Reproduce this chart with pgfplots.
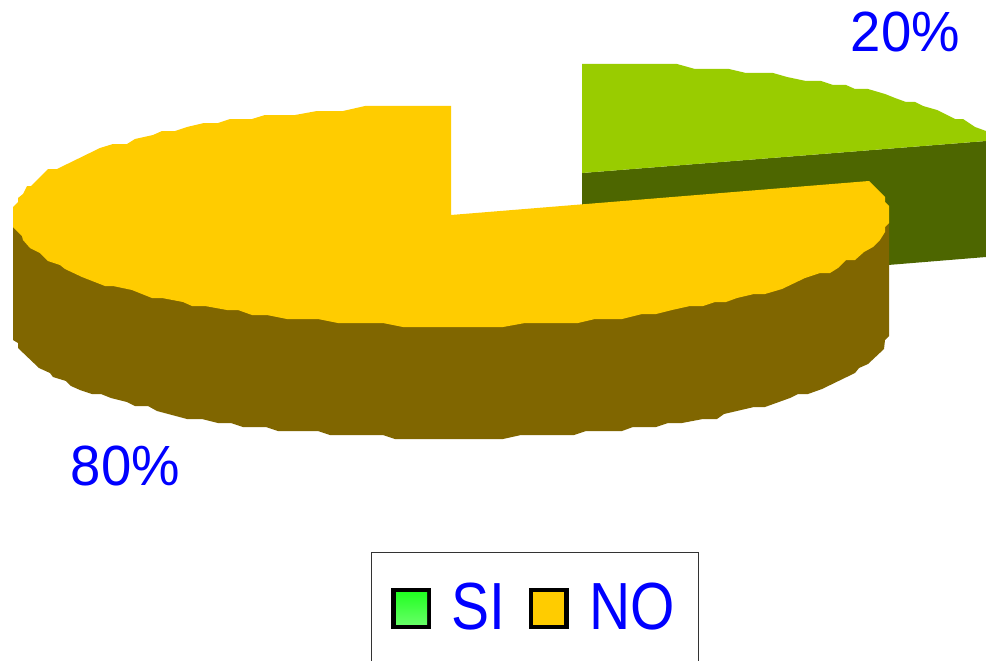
\documentclass[border=0pt]{standalone}
\usepackage{fontspec}
\usepackage{graphicx}
\usepackage{pgfplots}
\pgfplotsset{compat=1.18}
\setmainfont{Liberation Sans}
\definecolor{topgreen}{HTML}{99CC00}
\definecolor{sidegreen}{HTML}{4D6600}
\definecolor{topyellow}{HTML}{FFCC00}
\definecolor{sidebrown}{HTML}{806600}
\newcommand{\lab}[1]{\fontsize{54.5}{60}\selectfont\scalebox{1}[1.04]{\textcolor{blue}{#1}}}
\newcommand{\leg}[1]{\fontsize{57}{62}\selectfont\scalebox{1}[1.17]{\textcolor{blue}{#1}}}

\begin{document}
\begin{tikzpicture}
\begin{axis}[
    scale only axis,
    width=986pt, height=661pt,
    xmin=0, xmax=986,
    ymin=0, ymax=661,
    y dir=reverse,
    axis lines=none,
    clip=true,
]
% white page, keeps the picture at full size
\addplot[fill=white, draw=none] coordinates {(0,0) (986,0) (986,661) (0,661)} -- cycle;
% 20% slice, side then top
\addplot[fill=sidegreen, draw=none] coordinates {
    (582,173) (986,141) (986,257) (582,290)
} -- cycle;
\addplot[fill=topgreen, draw=none] coordinates {
    (582,64) (677,64) (695,69) (729,69) (746,73) (773,73) (787,77) (806,81)
    (821,81) (833,85) (846,85) (855,89) (868,89) (885,94) (895,98) (906,102)
    (915,102) (923,106) (937,110) (955,119) (963,119) (975,127) (986,131)
    (986,141) (582,173)
} -- cycle;
% 80% slice, side
\addplot[fill=sidebrown, draw=none] coordinates {
    (13,227) (13,340) (18,343) (18,348) (39,368) (50,373) (53,377) (66,381)
    (71,386) (80,390) (92,394) (101,394) (111,398) (127,402) (135,406) (148,406)
    (157,411) (187,419) (202,419) (218,423) (231,423) (243,427) (266,427)
    (278,431) (318,431) (330,435) (383,435) (395,439) (503,439) (521,435)
    (574,435) (586,431) (622,431) (633,427) (656,427) (668,423) (682,423)
    (703,419) (717,419) (724,414) (754,407) (765,407) (790,398) (798,394)
    (808,394) (822,389) (855,373) (859,368) (868,364) (884,349) (885,340)
    (889,336) (889,223) (500,250)
} -- cycle;
% 80% slice, top
\addplot[fill=topyellow, draw=none] coordinates {
    (451,106) (451,215) (869,181) (885,197) (885,202) (889,206) (889,223)
    (885,227) (885,232) (880,240) (873,247) (864,252) (855,260) (846,260)
    (838,268) (830,273) (820,273) (805,278) (782,289) (765,294) (754,294)
    (737,298) (726,302) (715,302) (703,306) (690,306) (672,310) (656,314)
    (642,314) (622,319) (595,319) (578,323) (525,323) (503,327) (403,327)
    (383,323) (338,323) (318,319) (287,319) (267,315) (252,315) (238,310)
    (227,310) (205,306) (192,306) (183,302) (162,298) (152,298) (132,290)
    (113,286) (105,286) (82,277) (65,269) (60,265) (48,261) (40,253) (30,248)
    (23,240) (22,236) (13,227) (13,207) (18,202) (18,198) (23,194) (27,186)
    (31,186) (48,169) (57,169) (100,148) (113,144) (127,144) (135,139) (153,135)
    (162,131) (175,131) (187,127) (204,123) (218,123) (230,119) (252,119)
    (265,115) (295,115) (317,111) (343,111) (365,106)
} -- cycle;
% legend box, open at the bottom
\addplot[draw=black!80, line width=1pt] coordinates {
    (371,661) (371,552.5) (698,552.5) (698,661)
};
\addplot[fill=black, draw=none] coordinates {(391,588) (431,588) (431,629) (391,629)} -- cycle;
\addplot[draw=none, top color={rgb,255:red,34;green,255;blue,34}, bottom color={rgb,255:red,102;green,255;blue,102}]
    coordinates {(396,592) (427,592) (427,624.5) (396,624.5)} -- cycle;
\addplot[fill=black, draw=none] coordinates {(528.5,588) (568.5,588) (568.5,629) (528.5,629)} -- cycle;
\addplot[fill=topyellow, draw=none] coordinates {(533,592) (564,592) (564,624.5) (533,624.5)} -- cycle;

\node[anchor=base west, inner sep=0pt] at (axis cs:451,629.5) {\leg{SI}};
\node[anchor=base west, inner sep=0pt] at (axis cs:589,629.5) {\leg{NO}};
\node[anchor=base west, inner sep=0pt] at (axis cs:850.5,52) {\lab{20\%}};
\node[anchor=base west, inner sep=0pt] at (axis cs:70.5,485) {\lab{80\%}};
\end{axis}
\end{tikzpicture}
\end{document}
